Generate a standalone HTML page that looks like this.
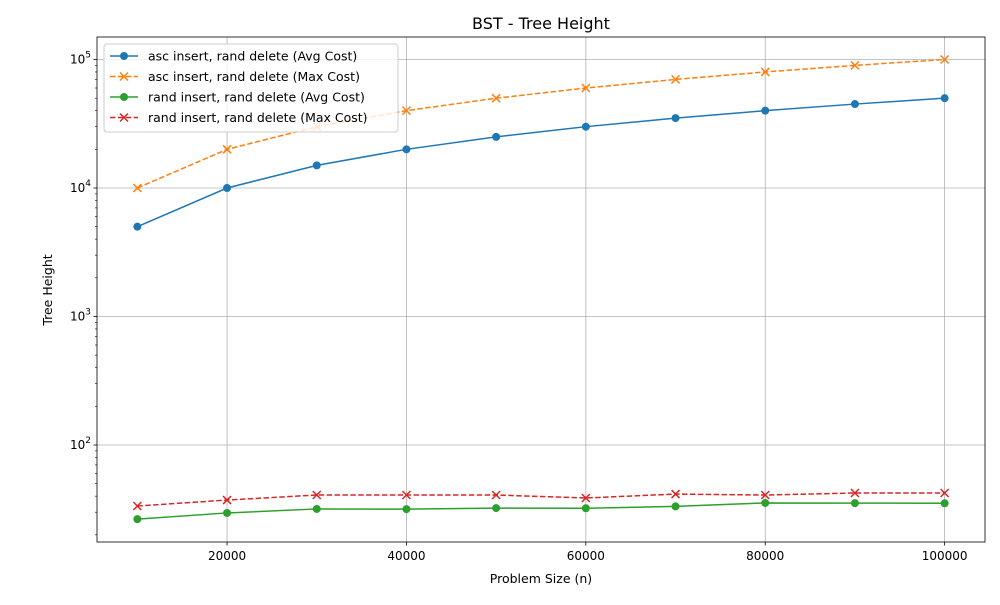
<!DOCTYPE html>
<html><head><meta charset="utf-8"><style>
body{margin:0;background:#fff;font-family:"Liberation Sans","DejaVu Sans",sans-serif}
svg text{font-family:"DejaVu Sans","Liberation Sans",sans-serif}
</style></head><body>
<svg id="chart" width="1000" height="600"></svg>
<script>
const xs=[10000,20000,30000,40000,50000,60000,70000,80000,90000,100000];
const ascAvg=[5000,10000,15000,20000,25000,30000,35000,40000,45000,50000];
const ascMax=[10000,20000,30000,40000,50000,60000,70000,80000,90000,100000];
const randAvg=[26.5,29.6,31.8,31.7,32.3,32.2,33.3,35.4,35.3,35.2];
const randMax=[33.5,37.3,40.8,40.8,40.8,38.7,41.5,40.8,42.3,42.3];
const xTicks=[20000,40000,60000,80000,100000];
const yTicks=[2,3,4,5];
const names=["asc insert, rand delete (Avg Cost)","asc insert, rand delete (Max Cost)","rand insert, rand delete (Avg Cost)","rand insert, rand delete (Max Cost)"];
const L=97,R=985,T=37,B=542;
const X=v=>L+(v-5500)/(104500-5500)*(R-L);
const Y=v=>445-(Math.log10(v)-2)*128.5;
const svg=document.getElementById('chart');const NS='http://www.w3.org/2000/svg';
function mk(t,a,p){const e=document.createElementNS(NS,t);for(const k in a)e.setAttribute(k,a[k]);(p||svg).appendChild(e);return e;}
let e;
e=mk('rect',{x:L,y:T,width:R-L,height:B-T,fill:'#fff'});


xTicks.forEach(v=>{
 e=mk('line',{x1:X(v),x2:X(v),y1:T,y2:B,stroke:'#b0b0b0','stroke-width':0.8});
 
 
 mk('line',{x1:X(v),x2:X(v),y1:B,y2:B+3.5,stroke:'#000','stroke-width':0.8});
 e=mk('text',{x:X(v),y:B+18,'text-anchor':'middle','font-size':12});e.textContent=v;
 
 
});
yTicks.forEach(p=>{
 const y=Y(Math.pow(10,p));
 e=mk('line',{x1:L,x2:R,y1:y,y2:y,stroke:'#b0b0b0','stroke-width':0.8});
 
 
 mk('line',{x1:L-3.5,x2:L,y1:y,y2:y,stroke:'#000','stroke-width':0.8});
 e=mk('text',{x:L-6,y:y+4,'text-anchor':'end','font-size':12});
 e.innerHTML='10<tspan dy="-6" font-size="9">'+p+'</tspan>';
 
 
 for(let m=2;m<10;m++){const v=m*Math.pow(10,p-1);const yy=Y(v);if(yy>T&&yy<B)mk('line',{x1:L-2,x2:L,y1:yy,y2:yy,stroke:'#000','stroke-width':0.6});}
});
for(let m=2;m<10;m++){const yy=Y(m*1e5);if(yy>T)mk('line',{x1:L-2,x2:L,y1:yy,y2:yy,stroke:'#000','stroke-width':0.6});}
e=mk('rect',{x:L,y:T,width:R-L,height:B-T,fill:'none',stroke:'#000','stroke-width':0.8});


const series=[[ascAvg,'#1f77b4','o',''],[ascMax,'#ff7f0e','x','5.5,2.4'],[randAvg,'#2ca02c','o',''],[randMax,'#d62728','x','5.5,2.4']];
function marker(g,x,y,c,m){if(m==='o')mk('circle',{cx:x,cy:y,r:4,fill:c},g);else{mk('path',{d:`M${x-4} ${y-4}L${x+4} ${y+4}M${x-4} ${y+4}L${x+4} ${y-4}`,stroke:c,'stroke-width':1.5},g);}}
series.forEach((s,i)=>{
 const g=mk('g',{});
 
 
 mk('polyline',{points:xs.map((x,j)=>X(x)+','+Y(s[0][j])).join(' '),fill:'none',stroke:s[1],'stroke-width':1.5,'stroke-dasharray':s[3]},g);
 xs.forEach((x,j)=>marker(g,X(x),Y(s[0][j]),s[1],s[2]));
});
const lg=mk('g',{});


mk('rect',{x:104,y:44,width:294,height:88,rx:3,fill:'#fff','fill-opacity':0.8,stroke:'#ccc'},lg);
series.forEach((s,i)=>{
 const y=56+i*20.5;
 const g=mk('g',{},lg);
 
 
 mk('line',{x1:110,x2:138,y1:y,y2:y,stroke:s[1],'stroke-width':1.5,'stroke-dasharray':s[3]},g);
 marker(g,124,y,s[1],s[2]);
 const t=mk('text',{x:148,y:y+4.5,'font-size':12.5},g);t.textContent=names[i];
});
e=mk('text',{x:541,y:29,'text-anchor':'middle','font-size':16});e.textContent='BST - Tree Height';


e=mk('text',{x:541,y:583,'text-anchor':'middle','font-size':12.5});e.textContent='Problem Size (n)';


e=mk('text',{x:52,y:290,'text-anchor':'middle','font-size':12.5,transform:'rotate(-90 52 290)'});e.textContent='Tree Height';


</script>
</body></html>
